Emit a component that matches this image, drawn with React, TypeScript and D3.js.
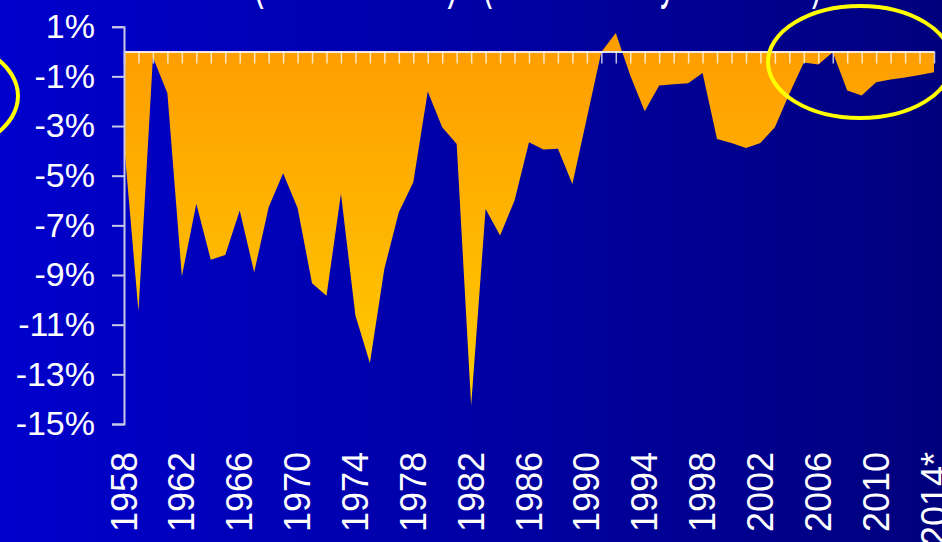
import React, { useEffect, useRef } from 'react';
import * as d3 from 'd3';

// fiscal years on the category axis
const years = [
  1958, 1959, 1960, 1961, 1962, 1963, 1964, 1965, 1966, 1967,
  1968, 1969, 1970, 1971, 1972, 1973, 1974, 1975, 1976, 1977,
  1978, 1979, 1980, 1981, 1982, 1983, 1984, 1985, 1986, 1987,
  1988, 1989, 1990, 1991, 1992, 1993, 1994, 1995, 1996, 1997,
  1998, 1999, 2000, 2001, 2002, 2003, 2004, 2005, 2006, 2007,
  2008, 2009, 2010, 2011, 2012, 2013, 2014,
];

// balance in %
const balance = [
  -3.7, -10.46, -0.23, -1.68, -9.05, -6.13, -8.39, -8.19, -6.4, -8.89,
  -6.27, -4.9, -6.3, -9.33, -9.84, -5.73, -10.63, -12.54, -8.75, -6.47,
  -5.26, -1.61, -3.05, -3.72, -14.26, -6.34, -7.41, -6.0, -3.65, -3.95,
  -3.92, -5.33, -2.68, -0.02, 0.75, -0.97, -2.4, -1.37, -1.32, -1.28,
  -0.86, -3.52, -3.68, -3.88, -3.68, -3.05, -1.7, -0.44, -0.52, -0.03,
  -1.57, -1.77, -1.24, -1.13, -1.05, -0.95, -0.83,
];

const labelYears = [1958, 1962, 1966, 1970, 1974, 1978, 1982, 1986, 1990, 1994, 1998, 2002, 2006, 2010, 2014];
const labelText = ['1958', '1962', '1966', '1970', '1974', '1978', '1982', '1986', '1990', '1994', '1998', '2002', '2006', '2010', '2014*'];
const yTicks = [1, -1, -3, -5, -7, -9, -11, -13, -15];

const W = 942;
const H = 542;
const FONT = '"Liberation Sans", Arial, sans-serif';

export default function App() {
  const svgRef = useRef<SVGSVGElement>(null);

  useEffect(() => {
    const svg = d3.select(svgRef.current);
    svg.selectAll('*').remove();

    const defs = svg.append('defs');
    const bg = defs.append('linearGradient').attr('id', 'bg')
      .attr('x1', 0).attr('x2', 1).attr('y1', 0).attr('y2', 0);
    bg.append('stop').attr('offset', '0%').attr('stop-color', '#0000cd');
    bg.append('stop').attr('offset', '100%').attr('stop-color', '#00007d');

    svg.append('rect').attr('width', W).attr('height', H).attr('fill', 'url(#bg)');

    const x = d3.scalePoint<number>().domain(years).range([124, 934]);
    const y = d3.scaleLinear().domain([-15, 1]).range([424, 26.7]);

    const fill = defs.append('linearGradient').attr('id', 'fill')
      .attr('gradientUnits', 'userSpaceOnUse')
      .attr('x1', 0).attr('x2', 0).attr('y1', y(0)).attr('y2', y(-14.3));
    fill.append('stop').attr('offset', '0%').attr('stop-color', '#ff9e00');
    fill.append('stop').attr('offset', '100%').attr('stop-color', '#ffcc00');

    // title sits above the top edge, only descenders show
    svg.append('text').attr('x', 253).attr('y', -3)
      .attr('fill', '#fff').attr('font-size', 60).attr('font-family', FONT)
      .attr('textLength', 205).attr('lengthAdjust', 'spacingAndGlyphs')
      .text('(as % of GDP)');
    svg.append('text').attr('x', 482).attr('y', -3)
      .attr('fill', '#fff').attr('font-size', 60).attr('font-family', FONT)
      .attr('textLength', 340).attr('lengthAdjust', 'spacingAndGlyphs')
      .text('(U.S. Treasury estimates)');

    const area = d3.area<number>()
      .x((_, i) => x(years[i])!)
      .y0(y(0))
      .y1(d => y(d));

    svg.append('path').datum(balance).attr('d', area).attr('fill', 'url(#fill)');

    // zero line with year ticks
    const xAxis = svg.append('g')
      .attr('transform', `translate(0,${y(0)})`)
      .call(d3.axisBottom(x).tickSize(12).tickSizeOuter(0).tickFormat(() => ''));
    xAxis.select('.domain').attr('stroke', '#fff').attr('stroke-opacity', 0.85).attr('stroke-width', 2);
    xAxis.selectAll('.tick line').attr('stroke', '#fff').attr('stroke-opacity', 0.75).attr('stroke-width', 1.5);

    const yAxis = svg.append('g')
      .attr('transform', 'translate(124,0)')
      .call(d3.axisLeft(y).tickValues(yTicks).tickSize(12).tickSizeOuter(12).tickPadding(17)
        .tickFormat(d => `${d}%`));
    yAxis.attr('font-family', FONT).attr('font-size', 34);
    yAxis.select('.domain').attr('stroke', '#c8c8e8').attr('stroke-width', 2);
    yAxis.selectAll('.tick line').attr('stroke', '#c8c8e8').attr('stroke-width', 2);
    yAxis.selectAll('.tick text').attr('fill', '#fff');

    svg.append('g').selectAll('text')
      .data(labelYears)
      .join('text')
      .attr('transform', d => `translate(${x(d)},452) rotate(-90)`)
      .attr('text-anchor', 'end')
      .attr('dy', '0.35em')
      .attr('fill', '#fff')
      .attr('font-size', 36)
      .attr('font-family', FONT)
      .text((_, i) => labelText[i]);

    // highlight ellipses
    svg.append('ellipse').attr('cx', 860).attr('cy', 62).attr('rx', 92).attr('ry', 56)
      .attr('fill', 'none').attr('stroke', '#ffff00').attr('stroke-width', 4);
    svg.append('ellipse').attr('cx', -72).attr('cy', 96).attr('rx', 90).attr('ry', 58)
      .attr('fill', 'none').attr('stroke', '#ffff00').attr('stroke-width', 4);
  }, []);

  return (
    <svg ref={svgRef} width={W} height={H} style={{ position: 'absolute', left: 0, top: 0 }} />
  );
}
